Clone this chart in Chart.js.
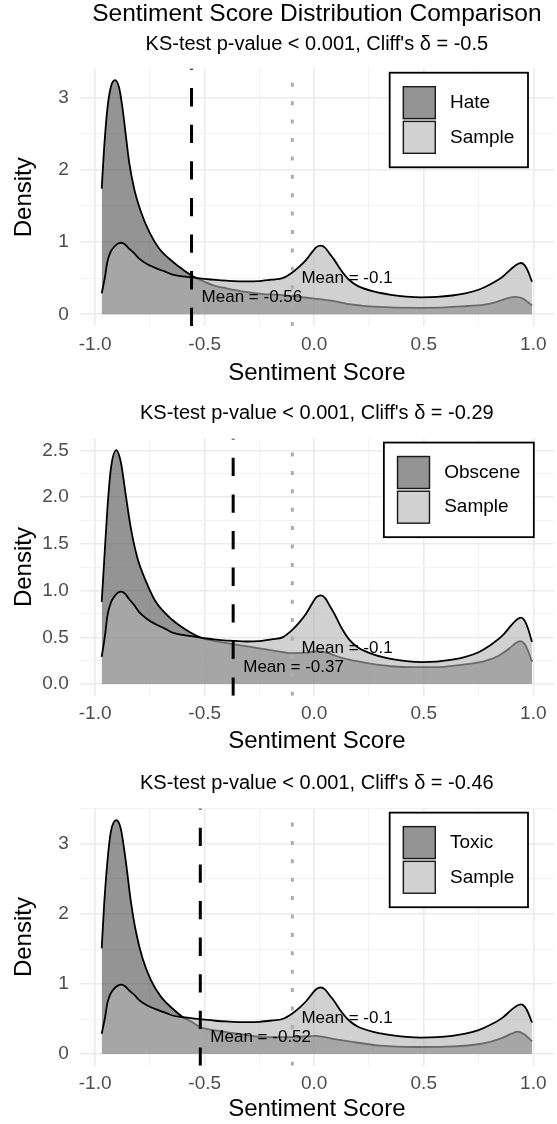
<!DOCTYPE html>
<html>
<head>
<meta charset="utf-8">
<title>Sentiment Score Distribution Comparison</title>
<script src="https://cdn.jsdelivr.net/npm/chart.js@4.4.1/dist/chart.umd.min.js"></script>
<style>
  html, body { margin: 0; padding: 0; background: #fff; }
  body { position: relative; width: 557px; height: 1124px; overflow: hidden; }
  canvas { position: absolute; left: 0; }
</style>
</head>
<body>
<canvas id="hateChart" width="557" height="392" style="top:0px"></canvas>
<canvas id="obsceneChart" width="557" height="368" style="top:392px"></canvas>
<canvas id="toxicChart" width="557" height="364" style="top:760px"></canvas>
<script>
// density curves (score -> density)
const sampleScore = [-0.97, -0.955, -0.944, -0.93, -0.913, -0.895, -0.88, -0.865, -0.845, -0.82, -0.799, -0.76, -0.723, -0.68, -0.647, -0.6, -0.556, -0.5, -0.449, -0.4, -0.31, -0.25, -0.19, -0.145, -0.1, -0.068, -0.038, -0.01, 0.01, 0.03, 0.05, 0.07, 0.09, 0.125, 0.16, 0.2, 0.28, 0.35, 0.42, 0.49, 0.56, 0.63, 0.69, 0.75, 0.8, 0.86, 0.9, 0.925, 0.944, 0.96, 0.975, 0.994];
const sampleDensity = [0.29, 0.52, 0.73, 0.86, 0.935, 0.98, 0.99, 0.97, 0.91, 0.84, 0.77, 0.69, 0.64, 0.59, 0.55, 0.525, 0.51, 0.49, 0.475, 0.465, 0.455, 0.46, 0.48, 0.5, 0.58, 0.66, 0.75, 0.86, 0.93, 0.95, 0.92, 0.84, 0.76, 0.6, 0.475, 0.39, 0.31, 0.27, 0.245, 0.235, 0.24, 0.26, 0.29, 0.34, 0.41, 0.52, 0.63, 0.69, 0.71, 0.68, 0.6, 0.45];

const hateScore = [-0.97, -0.959, -0.944, -0.928, -0.909, -0.89, -0.875, -0.86, -0.845, -0.822, -0.791, -0.753, -0.708, -0.647, -0.6, -0.556, -0.5, -0.464, -0.4, -0.312, -0.23, -0.16, -0.08, -0.008, 0.05, 0.114, 0.16, 0.25, 0.35, 0.49, 0.6, 0.7, 0.77, 0.83, 0.88, 0.92, 0.95, 0.975, 0.994];
const hateDensity = [1.74, 2.3, 2.85, 3.15, 3.24, 3.13, 2.85, 2.48, 2.11, 1.74, 1.42, 1.14, 0.91, 0.73, 0.62, 0.53, 0.45, 0.405, 0.36, 0.31, 0.28, 0.27, 0.245, 0.22, 0.2, 0.17, 0.14, 0.11, 0.095, 0.09, 0.095, 0.115, 0.13, 0.17, 0.22, 0.24, 0.22, 0.17, 0.12];

const obsceneScore = [-0.97, -0.959, -0.944, -0.928, -0.903, -0.883, -0.86, -0.837, -0.807, -0.768, -0.723, -0.647, -0.571, -0.51, -0.434, -0.35, -0.297, -0.22, -0.15, -0.099, -0.04, 0.008, 0.05, 0.1, 0.16, 0.25, 0.35, 0.46, 0.56, 0.65, 0.77, 0.84, 0.89, 0.92, 0.94, 0.96, 0.975, 0.994];
const obsceneDensity = [0.88, 1.31, 1.88, 2.31, 2.505, 2.38, 2.02, 1.67, 1.35, 1.1, 0.88, 0.685, 0.56, 0.49, 0.45, 0.42, 0.4, 0.37, 0.345, 0.33, 0.335, 0.35, 0.34, 0.3, 0.26, 0.22, 0.19, 0.18, 0.18, 0.2, 0.24, 0.3, 0.38, 0.44, 0.46, 0.43, 0.36, 0.24];

const toxicScore = [-0.97, -0.959, -0.944, -0.928, -0.903, -0.883, -0.86, -0.837, -0.814, -0.784, -0.746, -0.7, -0.647, -0.601, -0.56, -0.525, -0.434, -0.33, -0.22, -0.1, 0.008, 0.08, 0.16, 0.3, 0.46, 0.6, 0.77, 0.85, 0.9, 0.93, 0.96, 0.994];
const toxicDensity = [1.51, 2.13, 2.75, 3.18, 3.34, 3.22, 2.75, 2.18, 1.75, 1.37, 1.06, 0.82, 0.65, 0.53, 0.46, 0.39, 0.33, 0.28, 0.24, 0.24, 0.26, 0.22, 0.18, 0.12, 0.1, 0.105, 0.15, 0.22, 0.29, 0.32, 0.28, 0.18];

const groupNames = ["Hate", "Obscene", "Toxic"];
const groupMeans = [-0.56, -0.37, -0.52];
const sampleMean = -0.1;
const cliffsDelta = [-0.5, -0.29, -0.46];
const ksPValue = "< 0.001";

const xTickValues = [-1, -0.5, 0, 0.5, 1];
const xTickLabels = ["-1.0", "-0.5", "0.0", "0.5", "1.0"];
const yTickValues = [[0, 1, 2, 3], [0, 0.5, 1, 1.5, 2, 2.5], [0, 1, 2, 3]];
const yTickLabels = [["0", "1", "2", "3"], ["0.0", "0.5", "1.0", "1.5", "2.0", "2.5"], ["0", "1", "2", "3"]];

const family = "'Liberation Sans', Arial, sans-serif";
Chart.defaults.font.family = family;
Chart.defaults.color = '#4d4d4d';

const groupFill = 'rgba(77,77,77,0.6)';
const sampleFill = 'rgba(179,179,179,0.6)';

// page geometry of each panel (canvas coordinates)
const chartLeft = 80.2, chartRight = 553.5;
const layouts = [
  { id: 'hateChart', height: 392, titleY: 14.5, subtitleY: 44, chartTop: 68.5, chartBottom: 326, xTitleY: 373 },
  { id: 'obsceneChart', height: 368, subtitleY: 21.5, chartTop: 46.4, chartBottom: 303.7, xTitleY: 349 },
  { id: 'toxicChart', height: 364, subtitleY: 23.5, chartTop: 48.5, chartBottom: 305.7, xTitleY: 349 }
];

const toPoints = (xs, ys) => xs.map((x, i) => ({ x: x, y: ys[i] }));

// major ticks plus the minor ones halfway between (ggplot style grid)
function gridValues(major, min, max) {
  const step = major[1] - major[0];
  const out = major.slice();
  for (let i = 0; i < major.length; i++) {
    out.push(major[i] + step / 2);
    if (i === 0) out.push(major[0] - step / 2);
  }
  return out.filter(v => v >= min && v <= max).sort((a, b) => a - b);
}

const meanMarks = {
  id: 'meanMarks',
  afterDatasetsDraw(chart, args, opts) {
    const { ctx, chartArea: a, scales: { x, y } } = chart;
    const vline = (value, color, width, dash) => {
      const px = x.getPixelForValue(value);
      ctx.save();
      ctx.beginPath();
      ctx.rect(a.left, a.top, a.width, a.height);
      ctx.clip();
      ctx.strokeStyle = color;
      ctx.lineWidth = width;
      ctx.lineCap = 'butt';
      ctx.setLineDash(dash);
      ctx.beginPath();
      ctx.moveTo(px, a.bottom);
      ctx.lineTo(px, a.top);
      ctx.stroke();
      ctx.restore();
    };
    vline(opts.sampleMean, '#adadad', 3, [4, 14.4]);
    vline(opts.groupMean, '#000', 3, [18.3, 18.3]);

    ctx.save();
    ctx.font = '17px ' + family;
    ctx.fillStyle = '#000';
    ctx.textAlign = 'left';
    ctx.textBaseline = 'middle';
    opts.labels.forEach(l => {
      const w = ctx.measureText(l.text).width;
      ctx.fillText(l.text, x.getPixelForValue(l.x) + 0.1 * w, y.getPixelForValue(l.y));
    });
    ctx.restore();
  }
};

const boxLegend = {
  id: 'boxLegend',
  afterDraw(chart, args, opts) {
    const { ctx, chartArea: a } = chart;
    const items = chart.data.datasets;
    ctx.save();
    ctx.font = '19px ' + family;
    const textW = Math.max(...items.map(d => ctx.measureText(d.label).width));
    const key = 33.3, gap = 1.4, padL = 13, padR = 13.6, padV = 13.3, textGap = 14;
    const w = padL + key + textGap + textW + padR;
    const h = padV * 2 + key * items.length + gap * (items.length - 1);
    const bx = a.left + opts.x * a.width - w / 2;
    const by = a.bottom - opts.y * a.height - h / 2;
    ctx.fillStyle = '#fff';
    ctx.fillRect(bx, by, w, h);
    ctx.strokeStyle = '#000';
    ctx.lineWidth = 1.8;
    ctx.strokeRect(bx, by, w, h);
    items.forEach((d, i) => {
      const ky = by + padV + i * (key + gap);
      ctx.fillStyle = d.backgroundColor;
      ctx.fillRect(bx + padL, ky, key, key);
      ctx.strokeStyle = '#1a1a1a';
      ctx.lineWidth = 1.4;
      ctx.strokeRect(bx + padL + 0.7, ky + 0.7, key - 1.4, key - 1.4);
      ctx.fillStyle = '#000';
      ctx.textAlign = 'left';
      ctx.textBaseline = 'middle';
      ctx.fillText(d.label, bx + padL + key + textGap, ky + key / 2);
    });
    ctx.restore();
  }
};

const groups = [
  { score: hateScore, density: hateDensity },
  { score: obsceneScore, density: obsceneDensity },
  { score: toxicScore, density: toxicDensity }
];

const dataMin = Math.min(sampleScore[0], hateScore[0], obsceneScore[0], toxicScore[0]);
const dataMax = Math.max(sampleScore[sampleScore.length - 1], hateScore[hateScore.length - 1], obsceneScore[obsceneScore.length - 1], toxicScore[toxicScore.length - 1]);
const xMin = dataMin - 0.05 * (dataMax - dataMin);
const xMax = dataMax + 0.05 * (dataMax - dataMin);

groups.forEach((g, i) => {
  const L = layouts[i];
  const peak = Math.max(...g.density, ...sampleDensity);
  const yMin = -0.05 * peak, yMax = 1.05 * peak;
  const xGrid = gridValues(xTickValues, xMin, xMax);
  const yGrid = gridValues(yTickValues[i], yMin, yMax);

  let used = 0;
  const title = { display: false };
  if (L.titleY) {
    Object.assign(title, {
      display: true, text: 'Sentiment Score Distribution Comparison', fullSize: false,
      color: '#000', font: { size: 24.5, weight: 'normal', lineHeight: 1 },
      padding: { top: L.titleY - 12.25, bottom: 8 }
    });
    used = L.titleY + 20.25;
  }

  const majorGrid = ticks => c => c.tick && ticks.includes(c.tick.value);

  new Chart(document.getElementById(L.id), {
    type: 'line',
    data: {
      datasets: [
        {
          label: groupNames[i],
          data: toPoints(g.score, g.density),
          order: 1,
          borderColor: '#000',
          borderWidth: 1.8,
          backgroundColor: groupFill,
          fill: 'origin',
          pointRadius: 0,
          cubicInterpolationMode: 'monotone'
        },
        {
          label: 'Sample',
          data: toPoints(sampleScore, sampleDensity),
          order: 0,
          borderColor: '#000',
          borderWidth: 1.8,
          backgroundColor: sampleFill,
          fill: 'origin',
          pointRadius: 0,
          cubicInterpolationMode: 'monotone'
        }
      ]
    },
    options: {
      responsive: false,
      animation: false,
      events: [],
      layout: { padding: { left: 0, right: 557 - chartRight, top: 0, bottom: 0 } },
      plugins: {
        legend: { display: false },
        tooltip: { enabled: false },
        title: title,
        subtitle: {
          display: true,
          text: "KS-test p-value " + ksPValue + ", Cliff's \u03b4 = " + cliffsDelta[i],
          fullSize: false,
          color: '#000',
          font: { size: 20, lineHeight: 1 },
          padding: { top: L.subtitleY - 10 - used, bottom: L.chartTop - L.subtitleY - 10 }
        },
        meanMarks: {
          sampleMean: sampleMean,
          groupMean: groupMeans[i],
          labels: [
            { text: 'Mean = ' + sampleMean, x: sampleMean, y: 0.153 * peak },
            { text: 'Mean = ' + groupMeans[i], x: groupMeans[i], y: 0.073 * peak }
          ]
        },
        boxLegend: { x: 0.8, y: 0.8 }
      },
      scales: {
        x: {
          type: 'linear',
          min: xMin,
          max: xMax,
          afterBuildTicks: s => { s.ticks = xGrid.map(v => ({ value: v })); },
          afterFit: s => { s.height = L.height - L.chartBottom; },
          border: { display: false },
          grid: {
            drawTicks: false,
            color: c => majorGrid(xTickValues)(c) ? '#ebebeb' : '#f2f2f2',
            lineWidth: c => majorGrid(xTickValues)(c) ? 1.6 : 1
          },
          ticks: {
            autoSkip: false, maxRotation: 0, minRotation: 0, padding: 7,
            color: '#4d4d4d', font: { size: 19 },
            callback: v => { const k = xTickValues.indexOf(v); return k < 0 ? '' : xTickLabels[k]; }
          },
          title: {
            display: true, text: 'Sentiment Score', color: '#000',
            font: { size: 24, lineHeight: 1 },
            padding: { top: 0, bottom: L.height - 12 - L.xTitleY }
          }
        },
        y: {
          type: 'linear',
          min: yMin,
          max: yMax,
          afterBuildTicks: s => { s.ticks = yGrid.map(v => ({ value: v })); },
          afterFit: s => { s.width = chartLeft; },
          border: { display: false },
          grid: {
            drawTicks: false,
            color: c => majorGrid(yTickValues[i])(c) ? '#ebebeb' : '#f2f2f2',
            lineWidth: c => majorGrid(yTickValues[i])(c) ? 1.6 : 1
          },
          ticks: {
            autoSkip: false, padding: 11.5,
            color: '#4d4d4d', font: { size: 19 },
            callback: v => { const k = yTickValues[i].indexOf(v); return k < 0 ? '' : yTickLabels[i][k]; }
          },
          title: {
            display: true, text: 'Density', color: '#000',
            font: { size: 24, lineHeight: 1 },
            padding: { top: 12.5, bottom: 0 }
          }
        }
      }
    },
    plugins: [meanMarks, boxLegend]
  });
});
</script>
</body>
</html>
